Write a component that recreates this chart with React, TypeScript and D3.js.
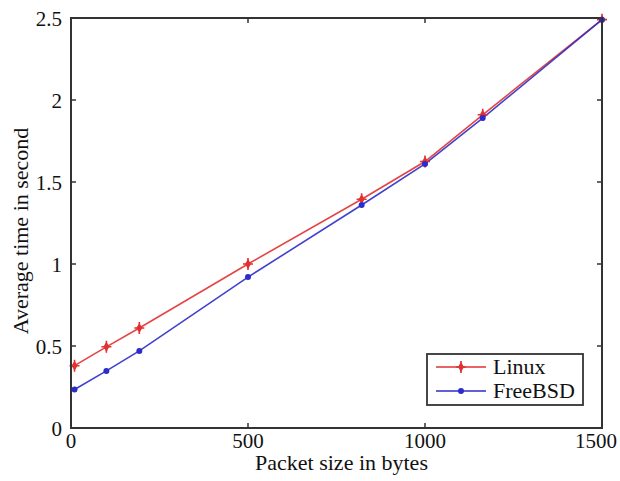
import React from "react";
import * as d3 from "d3";

const packetSizes = [10, 100, 193, 500, 821, 1000, 1163, 1500];
const linuxTimes = [0.38, 0.495, 0.61, 1.0, 1.395, 1.625, 1.91, 2.49];
const freebsdTimes = [0.235, 0.348, 0.47, 0.92, 1.36, 1.61, 1.89, 2.49];
const xTicks = [0, 500, 1000, 1500];
const yTicks = [0, 0.5, 1, 1.5, 2, 2.5];
const seriesNames = ["Linux", "FreeBSD"];

const W = 620, H = 481;
const M = { left: 71, right: 18, top: 18, bottom: 53 };
const FONT = "'Liberation Serif', 'Times New Roman', serif";
const RED = "#e23030";
const BLUE = "#2c2cc8";

export default function App() {
  const x = d3.scaleLinear().domain([0, 1500]).range([M.left, W - M.right]);
  const y = d3.scaleLinear().domain([0, 2.5]).range([H - M.bottom, M.top]);
  const line = d3.line<number>().x((_, i) => x(packetSizes[i])).y((v) => y(v));
  const x0 = x(0), x1 = x(1500), y0 = y(0), y1 = y(2.5);
  const tl = 5;

  const star = (cx: number, cy: number, k: string) => (
    <g key={k}>
      <path d={`M${cx},${cy - 5}L${cx + 3},${cy}L${cx},${cy + 5}L${cx - 3},${cy}Z`} fill={RED} />
      <path d={`M${cx - 5},${cy}L${cx + 5},${cy}M${cx},${cy - 6}L${cx},${cy + 6}`} stroke={RED} strokeWidth={1.6} />
    </g>
  );
  const dot = (cx: number, cy: number, k: string) => <circle key={k} cx={cx} cy={cy} r={3} fill={BLUE} />;

  const lx = 427, ly = 354, lw = 156, lh = 51;

  return (
    <svg width={W} height={H} style={{ position: "absolute", left: 0, top: 0, background: "#fff" }}>
      <path d={line(linuxTimes) || ""} fill="none" stroke={RED} strokeWidth={1.6} opacity={0.9} />
      <path d={line(freebsdTimes) || ""} fill="none" stroke={BLUE} strokeWidth={1.6} opacity={0.9} />
      {linuxTimes.map((v, i) => star(x(packetSizes[i]), y(v), "l" + i))}
      {freebsdTimes.map((v, i) => dot(x(packetSizes[i]), y(v), "f" + i))}

      <rect x={x0} y={y1} width={x1 - x0} height={y0 - y1} fill="none" stroke="#333" strokeWidth={2} />
      {xTicks.map((t) => (
        <g key={"x" + t}>
          <line x1={x(t)} x2={x(t)} y1={y0} y2={y0 - tl} stroke="#333" strokeWidth={1.5} />
          <line x1={x(t)} x2={x(t)} y1={y1} y2={y1 + tl} stroke="#333" strokeWidth={1.5} />
          <text x={Math.min(x(t), W - 24)} y={y0 + 20} textAnchor="middle" fontFamily={FONT} fontSize={21} fill="#111">{t}</text>
        </g>
      ))}
      {yTicks.map((t) => (
        <g key={"y" + t}>
          <line x1={x0} x2={x0 + tl} y1={y(t)} y2={y(t)} stroke="#333" strokeWidth={1.5} />
          <line x1={x1} x2={x1 - tl} y1={y(t)} y2={y(t)} stroke="#333" strokeWidth={1.5} />
          <text x={x0 - 9} y={y(t) + 8} textAnchor="end" fontFamily={FONT} fontSize={21} fill="#111">{t}</text>
        </g>
      ))}
      <text x={(x0 + x1) / 2 + 5} y={470} textAnchor="middle" fontFamily={FONT} fontSize={22} fill="#111">Packet size in bytes</text>
      <text transform={`translate(28,${(y0 + y1) / 2 + 8}) rotate(-90)`} textAnchor="middle" fontFamily={FONT} fontSize={22} fill="#111">Average time in second</text>

      <rect x={lx} y={ly} width={lw} height={lh} fill="#fff" stroke="#333" strokeWidth={1.8} />
      {seriesNames.map((n, i) => {
        const yy = ly + 13 + i * 24;
        const c = i === 0 ? RED : BLUE;
        return (
          <g key={n}>
            <line x1={lx + 9} x2={lx + 59} y1={yy} y2={yy} stroke={c} strokeWidth={1.6} />
            {i === 0 ? star(lx + 34, yy, "ls") : dot(lx + 34, yy, "ld")}
            <text x={lx + 66} y={yy + 7} fontFamily={FONT} fontSize={22} fill="#111">{n}</text>
          </g>
        );
      })}
    </svg>
  );
}
